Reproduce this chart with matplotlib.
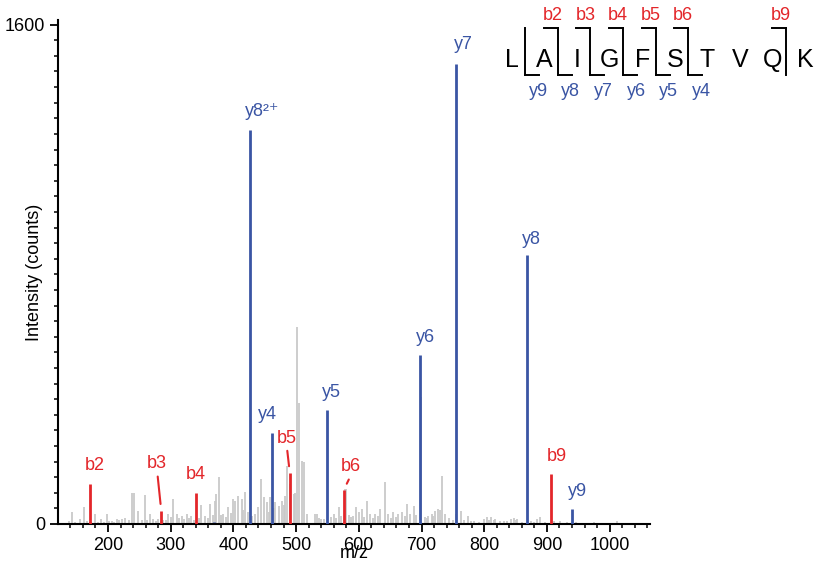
import numpy as np
import matplotlib.pyplot as plt
import matplotlib as mpl

mpl.rcParams['font.family'] = ['Liberation Sans', 'DejaVu Sans']
mpl.rcParams['font.size'] = 13

RED = '#e3262a'
BLUE = '#3a55a4'
GRAY = '#c9c9c9'

# annotated fragment ions
b_labels = ['b2', 'b3', 'b4', 'b5', 'b6', 'b9']
b_mz = [171, 285, 340, 490, 576, 906]
b_int = [128, 42, 100, 163, 109, 160]

y_labels = ['y8²⁺', 'y4', 'y5', 'y6', 'y7', 'y8', 'y9']
y_mz = [426, 462, 549, 698, 755, 868, 940]
y_int = [1263, 292, 365, 542, 1474, 862, 48]

# tiny unlabelled y ions near the baseline
y_small_mz = [172, 369]
y_small_int = [5, 6]

# unassigned peaks (gray)
gray_mz = [138, 142, 148, 155, 161, 166, 172, 179, 184, 189, 194, 198, 202, 206, 210,
           214, 218, 222, 227, 233, 239, 242, 248, 254, 259, 263, 267, 272, 276, 280,
           284, 288, 292, 296, 300, 304, 310, 314, 318, 322, 326, 330, 333, 337, 345,
           349, 355, 359, 363, 367, 371, 373, 377, 380, 384, 388, 392, 396, 400, 403,
           408, 413, 416, 419, 424, 430, 435, 440, 444, 449, 453, 456, 459, 464, 467,
           472, 477, 480, 483, 486, 491, 496, 498, 502, 505, 509, 512, 517, 530, 533,
           536, 539, 544, 555, 560, 564, 568, 572, 578, 580, 584, 587, 591, 595, 600,
           605, 609, 613, 618, 622, 626, 630, 634, 641, 647, 651, 655, 659, 663, 669,
           673, 677, 682, 688, 692, 699, 705, 708, 711, 716, 719, 721, 726, 729, 733,
           737, 744, 750, 755, 763, 768, 774, 779, 784, 792, 800, 805, 808, 811, 815,
           818, 825, 832, 837, 842, 847, 850, 853, 860, 874, 879, 884, 889, 897, 911,
           921, 932, 947, 960, 975, 990, 1012, 1030]
gray_int = [10, 37, 8, 16, 53, 10, 6, 32, 8, 16, 7, 32, 9, 10, 8,
            16, 12, 16, 19, 12, 98, 98, 43, 14, 94, 12, 32, 16, 10, 16,
            9, 12, 14, 32, 22, 80, 32, 18, 27, 15, 32, 20, 27, 14, 18,
            62, 27, 20, 64, 30, 75, 96, 150, 28, 32, 24, 53, 35, 80, 75,
            91, 80, 45, 101, 37, 25, 32, 53, 144, 85, 69, 40, 85, 50, 69,
            59, 75, 60, 91, 187, 128, 96, 98, 630, 388, 203, 200, 32, 32, 32,
            20, 16, 16, 21, 32, 18, 53, 25, 112, 112, 30, 21, 26, 53, 37,
            48, 22, 75, 32, 20, 32, 25, 48, 134, 32, 20, 37, 22, 32, 37,
            25, 64, 32, 59, 28, 406, 21, 18, 27, 32, 25, 43, 48, 45, 155,
            32, 20, 12, 32, 43, 14, 27, 9, 11, 8, 16, 21, 14, 24, 12,
            16, 10, 11, 9, 16, 19, 13, 16, 8, 11, 7, 16, 21, 8, 11,
            9, 6, 5, 4, 5, 4, 11, 4]

# peptide sequence and observed cleavages (index = cleavage after residue i)
sequence = list('LAIGFSTVQK')
b_sites = [2, 3, 4, 5, 6, 9]
y_sites = [1, 2, 3, 4, 5, 6]

fig = plt.figure(figsize=(8.37, 5.68), dpi=100)
ax = fig.add_axes([58 / 837, 44 / 568, 592 / 837, 504 / 568])

ax.vlines(gray_mz, 0, gray_int, color=GRAY, lw=1.3, zorder=1)
ax.vlines(y_small_mz, 0, y_small_int, color=BLUE, lw=2, zorder=2)
ax.vlines(b_mz, 0, b_int, color=RED, lw=2, zorder=3)
ax.vlines(y_mz, 0, y_int, color=BLUE, lw=2, zorder=3)

# label offsets in pixels (dx, dy from peak top); leader lines where given
px = 0.72
b_off = {'b2': (5, 19), 'b3': (-4, 47), 'b4': (0, 18), 'b5': (-3, 35), 'b6': (7, 23), 'b9': (6, 18)}
leader = {'b3', 'b5', 'b6'}
for lab, m, h in zip(b_labels, b_mz, b_int):
    dx, dy = b_off[lab]
    kw = {}
    if lab in leader:
        kw['arrowprops'] = dict(arrowstyle='-', color=RED, lw=1.5, shrinkA=1, shrinkB=5,
                                relpos=(0.5, 0.0))
    ax.annotate(lab, (m, h), xytext=(dx * px, dy * px), textcoords='offset points',
                ha='center', va='center', color=RED, fontsize=13, **kw)

y_off = {'y8²⁺': (12, 18), 'y4': (-5, 18), 'y5': (5, 18), 'y6': (5, 17),
         'y7': (7, 20), 'y8': (5, 15), 'y9': (5, 18)}
for lab, m, h in zip(y_labels, y_mz, y_int):
    dx, dy = y_off[lab]
    ax.annotate(lab, (m, h), xytext=(dx * px, dy * px), textcoords='offset points',
                ha='center', va='center', color=BLUE, fontsize=13)

ax.set_xlim(120.3, 1064.4)
ax.set_ylim(0, 1615)
ax.set_xticks(np.arange(200, 1001, 100))
ax.set_xticks(np.arange(140, 1061, 20), minor=True)
ax.set_yticks([0, 1600])
ax.set_yticks(np.arange(0, 1601, 50), minor=True)
for s in ['top', 'right']:
    ax.spines[s].set_visible(False)
for s in ['left', 'bottom']:
    ax.spines[s].set_linewidth(1.5)
ax.tick_params(which='major', length=6, width=1.3, labelsize=13, pad=3)
ax.tick_params(which='minor', length=3, width=1.1)
ax.set_xlabel('m/z', fontsize=13, labelpad=-6)
ax.set_ylabel('Intensity (counts)', fontsize=13)
ax.yaxis.set_label_coords(-0.026, 0.5)

# sequence coverage diagram (figure pixel coordinates)
ov = fig.add_axes([0, 0, 1, 1])
ov.set_xlim(0, 837)
ov.set_ylim(568, 0)
ov.axis('off')
x0, dxs, yseq = 512, 32.6, 60
for i, aa in enumerate(sequence):
    ov.text(x0 + i * dxs, yseq, aa, ha='center', va='center', fontsize=18)
top, bot, hook = 28, 75, 14
for site in sorted(set(b_sites) | set(y_sites)):
    xc = x0 + (site - 0.5) * dxs - 3
    ov.plot([xc, xc], [top, bot], color='black', lw=1.4)
    if site in b_sites:
        ov.plot([xc - hook, xc], [top, top], color='black', lw=1.4)
        ov.text(xc - hook / 2 + 2, 15, 'b%d' % site, color=RED, ha='center', va='center', fontsize=13)
    if site in y_sites:
        ov.plot([xc, xc + hook], [bot, bot], color='black', lw=1.4)
        ov.text(xc + hook / 2 + 6, 92, 'y%d' % (len(sequence) - site), color=BLUE,
                ha='center', va='center', fontsize=13)

fig.savefig('out.png', dpi=100)
